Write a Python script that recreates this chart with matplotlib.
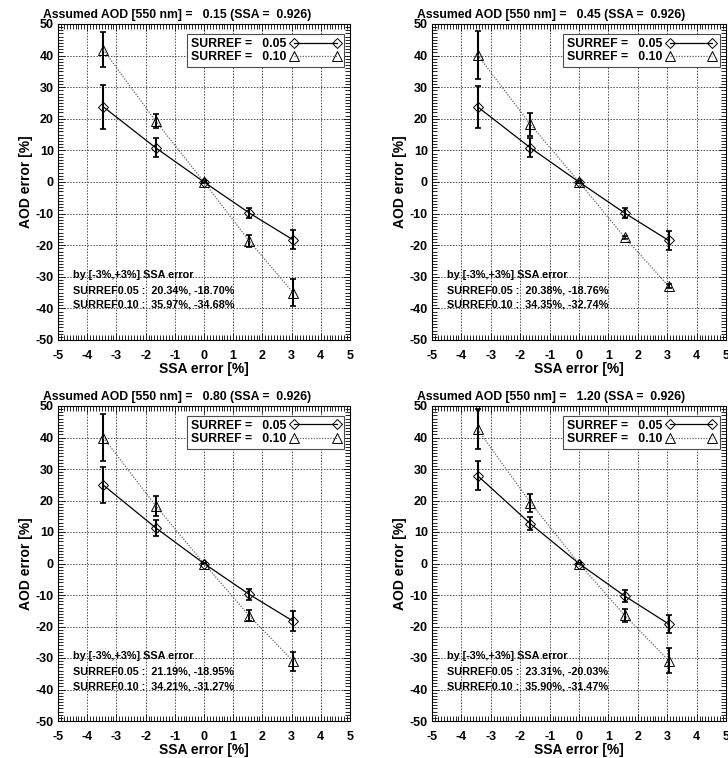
import matplotlib.pyplot as plt
from matplotlib.ticker import MultipleLocator

plt.rcParams['font.family'] = ['Liberation Sans', 'DejaVu Sans']
plt.rcParams['font.weight'] = 'bold'
plt.rcParams['axes.labelweight'] = 'bold'
plt.rcParams['axes.unicode_minus'] = False

# SSA error positions [%]
ssa_err = [-3.45, -1.65, 0.0, 1.55, 3.05]

aod_list = ["0.15", "0.45", "0.80", "1.20"]

# AOD error [%] for SURREF = 0.05 (one row per assumed AOD)
aod_err_005 = [
    [23.8, 10.8, 0.0, -9.8, -18.3],
    [23.8, 10.8, 0.0, -9.8, -18.5],
    [24.9, 11.3, 0.0, -9.8, -18.3],
    [27.9, 12.6, 0.0, -10.3, -19.2],
]
std_005 = [
    [7.0, 3.0, 0.3, 1.7, 3.0],
    [6.7, 3.0, 0.3, 1.6, 3.1],
    [5.6, 2.5, 0.3, 1.7, 3.1],
    [4.6, 2.1, 0.3, 1.8, 3.0],
]

# AOD error [%] for SURREF = 0.10
aod_err_010 = [
    [41.9, 19.2, 0.0, -18.7, -35.0],
    [40.2, 18.2, 0.0, -17.5, -33.0],
    [40.0, 18.3, 0.0, -16.6, -31.0],
    [42.6, 19.3, 0.0, -16.4, -30.8],
]
std_010 = [
    [5.6, 2.2, 0.3, 1.9, 4.3],
    [7.7, 3.5, 0.3, 0.5, 0.6],
    [7.5, 3.1, 0.3, 1.8, 3.0],
    [6.3, 2.9, 0.3, 2.1, 3.9],
]

# summary text, error by [-3%,+3%] SSA error
summary_005 = ["20.34%, -18.70%", "20.38%, -18.76%", "21.19%, -18.95%", "23.31%, -20.03%"]
summary_010 = ["35.97%, -34.68%", "34.35%, -32.74%", "34.21%, -31.27%", "35.90%, -31.47%"]

W, H = 728, 758
fig = plt.figure(figsize=(W / 100, H / 100), dpi=100)

# axes boxes in pixels: left, top, right, bottom
boxes = [
    (58, 24, 350, 340),
    (432, 24, 726, 340),
    (58, 406, 350, 721),
    (432, 406, 726, 721),
]

for i, (l, t, r, b) in enumerate(boxes):
    ax = fig.add_axes([l / W, 1 - b / H, (r - l) / W, (b - t) / H])
    ax.set_xlim(-5, 5)
    ax.set_ylim(-50, 50)
    ax.xaxis.set_major_locator(MultipleLocator(1))
    ax.xaxis.set_minor_locator(MultipleLocator(0.1))
    ax.yaxis.set_major_locator(MultipleLocator(10))
    ax.yaxis.set_minor_locator(MultipleLocator(1))
    ax.tick_params(which='both', direction='in', top=True, right=True, labelsize=9, width=0.6)
    ax.tick_params(which='major', length=5)
    ax.tick_params(which='minor', length=3.5)
    ax.tick_params(axis='x', which='major', pad=7)
    ax.tick_params(axis='y', which='major', pad=3)
    for lab in ax.get_xticklabels() + ax.get_yticklabels():
        lab.set_fontweight('bold')
    for s in ax.spines.values():
        s.set_linewidth(0.8)
    ax.grid(True, which='major', color='0.3', linestyle=(0, (1.5, 1.5)), linewidth=0.7)
    ax.set_axisbelow(True)

    ax.errorbar(ssa_err, aod_err_005[i], yerr=std_005[i], fmt='none', ecolor='black',
                elinewidth=1.5, capsize=2.5, capthick=1.2, zorder=3)
    ax.errorbar(ssa_err, aod_err_010[i], yerr=std_010[i], fmt='none', ecolor='black',
                elinewidth=1.5, capsize=2.5, capthick=1.2, zorder=3)
    ax.plot(ssa_err, aod_err_005[i], color='black', lw=0.9, marker='D', ms=5,
            mfc='none', mec='black', mew=0.7, label='SURREF =   0.05', zorder=4)
    ax.plot(ssa_err, aod_err_010[i], color='0.4', lw=0.9, linestyle=(0, (1, 1.2)),
            marker='^', ms=6.5, mfc='none', mec='black', mew=0.7,
            label='SURREF =   0.10', zorder=4)

    leg = ax.legend(loc='upper right', bbox_to_anchor=(0.979, 0.968), borderaxespad=0,
                    markerfirst=False, numpoints=2,
                    prop={'size': 8.8, 'weight': 'bold'},
                    fancybox=False, framealpha=1, edgecolor='0.3', handlelength=4.1,
                    handletextpad=0.3, borderpad=0.3, labelspacing=0.1)
    leg.get_frame().set_linewidth(0.8)

    ax.set_xlabel('SSA error [%]', fontsize=10, fontweight='bold', labelpad=0)
    ax.set_ylabel('AOD error [%]', fontsize=10, fontweight='bold', labelpad=2)
    ax.text(-0.051, 1.02, f'Assumed AOD [550 nm] =   {aod_list[i]} (SSA =  0.926)',
            transform=ax.transAxes, fontsize=8.8, fontweight='bold', ha='left', va='baseline')

    ax.text(-4.5, -29.3, 'by [-3%,+3%] SSA error', fontsize=7.8, fontweight='bold', va='center')
    ax.text(-4.5, -34.2, 'SURREF0.05 :  ' + summary_005[i], fontsize=7.8, fontweight='bold', va='center')
    ax.text(-4.5, -38.9, 'SURREF0.10 :  ' + summary_010[i], fontsize=7.8, fontweight='bold', va='center')

fig.savefig('out.png', dpi=100)
